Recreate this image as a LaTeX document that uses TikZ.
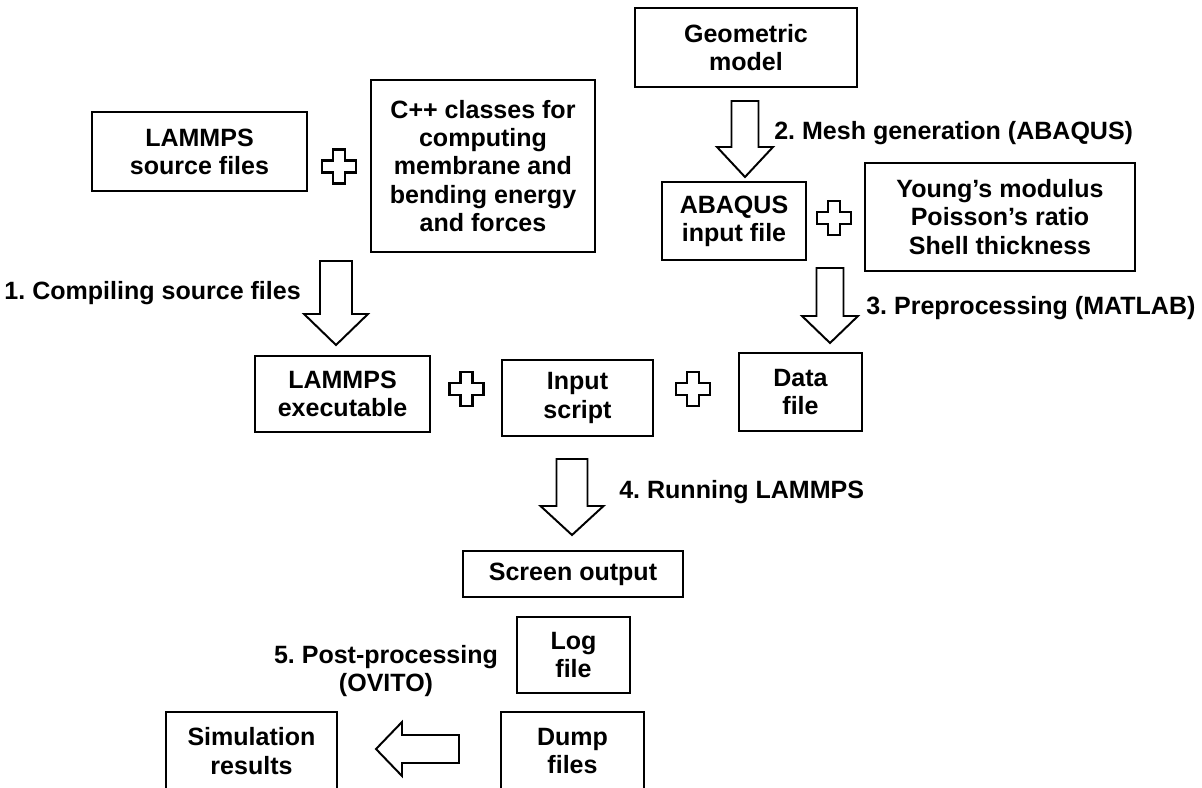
\documentclass[tikz,border=0pt]{standalone}
\usepackage{fontspec}
\setmainfont{Liberation Sans}
\usetikzlibrary{calc}
\frenchspacing

% hollow block arrow pointing down: tail, shaft half width, head half width, length, head length
\newcommand{\downblock}[5]{%
  \draw[blockarrow, shift={(#1)}] (-#2,0) -- (#2,0) -- (#2,#4-#5) -- (#3,#4-#5) -- (0,#4)
    -- (-#3,#4-#5) -- (-#2,#4-#5) -- cycle;}
% same, pointing left
\newcommand{\leftblock}[5]{%
  \draw[blockarrow, shift={(#1)}] (0,-#2) -- (0,#2) -- (-#4+#5,#2) -- (-#4+#5,#3) -- (-#4,0)
    -- (-#4+#5,-#3) -- (-#4+#5,-#2) -- cycle;}
% outlined plus sign
\newcommand{\plussign}[1]{%
  \draw[plusmark, shift={(#1)}] (-6,-17) -- (6,-17) -- (6,-6) -- (17,-6) -- (17,6) -- (6,6)
    -- (6,17) -- (-6,17) -- (-6,6) -- (-17,6) -- (-17,-6) -- (-6,-6) -- cycle;}

\begin{document}
\begin{tikzpicture}[x=0.025cm, y=-0.025cm,
    font=\bfseries\fontsize{17.8}{20}\selectfont,
    box/.style={draw, line width=1.6pt, align=center, inner sep=0pt},
    lbl/.style={inner sep=0pt, align=center},
    blockarrow/.style={draw, line width=1.4pt, fill=white, line join=miter},
    plusmark/.style={draw, line width=1.5pt, fill=white}]
  \useasboundingbox (0,0) rectangle (1202,788);

  % input files
  \node[box, minimum width=5.375cm, minimum height=1.975cm] (src) at (199.5,151.5) {LAMMPS\\source files};
  \node[box, minimum width=5.6cm, minimum height=4.3cm] (cpp) at (483,166) {C++ classes for\\computing\\membrane and\\bending energy\\and forces};
  \node[box, minimum width=5.55cm, minimum height=1.975cm] (geo) at (746,47.5) {Geometric\\model};
  \node[box, minimum width=3.6cm, minimum height=1.95cm] (abq) at (734,221) {ABAQUS\\input file};
  \node[box, minimum width=6.75cm, minimum height=2.7cm] (mat) at (1000,217) {Young’s modulus\\Poisson’s ratio\\Shell thickness};

  % simulation inputs
  \node[box, minimum width=4.375cm, minimum height=1.9cm] (exe) at (342.5,394) {LAMMPS\\executable};
  \node[box, minimum width=3.775cm, minimum height=1.9cm] (inp) at (577.5,398) {Input\\script};
  \node[box, minimum width=3.075cm, minimum height=1.95cm] (dat) at (800.5,392) {Data\\file};

  % outputs
  \node[box, minimum width=5.5cm, minimum height=1.15cm] (scr) at (573,574) {Screen output};
  \node[box, minimum width=2.825cm, minimum height=1.9cm] (log) at (573.5,655) {Log\\file};
  \node[box, minimum width=3.575cm, minimum height=1.95cm] (dump) at (572.5,751) {Dump\\files};
  \node[box, minimum width=4.275cm, minimum height=1.95cm] (sim) at (251.5,751) {Simulation\\results};

  % plus signs
  \coordinate (p1) at (339,166.5);
  \coordinate (p2) at (834,218);
  \coordinate (p3) at (466.5,389);
  \coordinate (p4) at (693,389);
  \foreach \p in {p1,p2,p3,p4} {\plussign{\p}}

  % steps
  \coordinate (t1) at (336,261);
  \coordinate (t2) at (745,101);
  \coordinate (t3) at (830,268);
  \coordinate (t4) at (572,459);
  \coordinate (t5) at (459,749);
  \downblock{t1}{16}{32}{84}{31}
  \downblock{t2}{13.5}{28}{76}{30}
  \downblock{t3}{13.5}{28}{75}{27}
  \downblock{t4}{15.5}{31.5}{76}{29}
  \leftblock{t5}{14}{27}{83}{26}

  \node[lbl, anchor=east] (l1) at (301,293) {1. Compiling source files};
  \node[lbl, anchor=west] (l2) at (774,133) {2. Mesh generation (ABAQUS)};
  \node[lbl, anchor=west] (l3) at (866,308) {3. Preprocessing (MATLAB)};
  \node[lbl, anchor=west] (l4) at (619,492) {4. Running LAMMPS};
  \node[lbl] (l5) at (386,671) {5. Post-processing\\(OVITO)};
\end{tikzpicture}
\end{document}
